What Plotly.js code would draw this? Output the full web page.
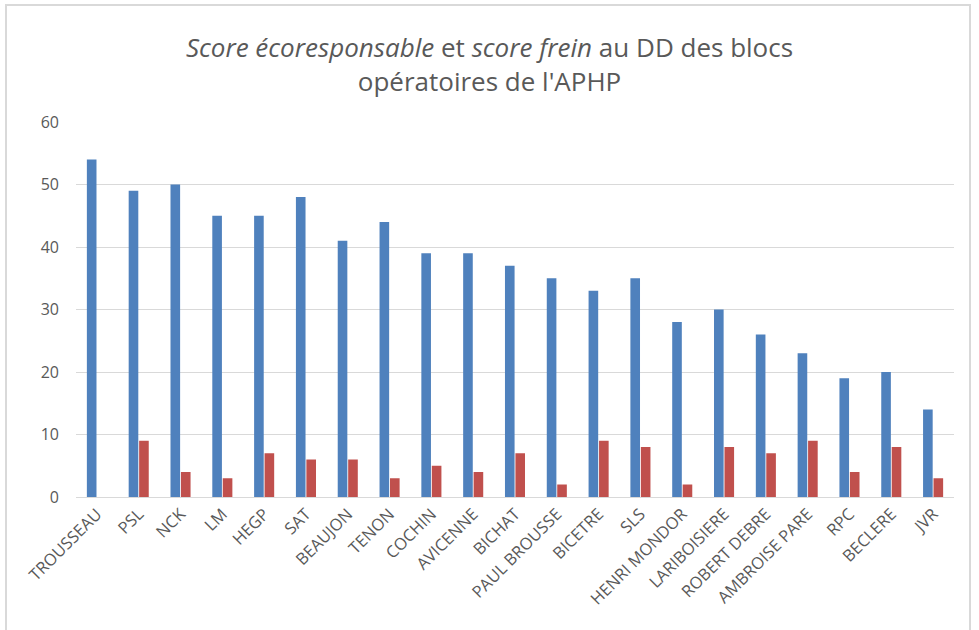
<!DOCTYPE html>
<html>
<head>
<meta charset="utf-8">
<script src="https://cdn.plot.ly/plotly-3.0.1.min.js"></script>
<style>
html,body{margin:0;padding:0;background:#fff;}
#frame{position:absolute;left:5px;top:4px;width:966px;height:640px;border:2px solid #d9d9d9;box-sizing:border-box;}
#chart{position:absolute;left:0;top:0;width:979px;height:630px;}
</style>
</head>
<body>
<div id="frame"></div>
<div id="chart"></div>
<script>
const categories = ["TROUSSEAU","PSL","NCK","LM","HEGP","SAT","BEAUJON","TENON","COCHIN","AVICENNE","BICHAT","PAUL BROUSSE","BICETRE","SLS","HENRI MONDOR","LARIBOISIERE","ROBERT DEBRE","AMBROISE PARE","RPC","BECLERE","JVR"];
const scoreEco = [54,49,50,45,45,48,41,44,39,39,37,35,33,35,28,30,26,23,19,20,14];
const scoreFrein = [0,9,4,3,7,6,6,3,5,4,7,2,9,8,2,8,7,9,4,8,3];
const yTicks = [0,10,20,30,40,50,60];

const font = "Open Sans, Noto Sans, sans-serif";
const traces = [
  {type:"bar", x:categories, y:scoreEco, name:"Score écoresponsable",
   marker:{color:"#4f81bd", line:{width:0}}},
  {type:"bar", x:categories, y:scoreFrein, name:"Score frein",
   marker:{color:"#c0504d", line:{width:0}}}
];
const layout = {
  width:979, height:630,
  paper_bgcolor:"rgba(0,0,0,0)", plot_bgcolor:"rgba(0,0,0,0)",
  margin:{l:76, r:25, t:122, b:133},
  showlegend:false,
  barmode:"group", bargap:0.5, bargroupgap:0.08,
  title:{text:"<i>Score écoresponsable</i> et <i>score frein</i> au DD des blocs<br>opératoires de l'APHP",
         x:0.5, xanchor:"center", y:0.91, yanchor:"top",
         font:{family:font, size:26, color:"#595959"}},
  xaxis:{tickangle:-45, tickfont:{family:font, size:16.5, color:"#595959"},
         showgrid:false, showline:true, linecolor:"#d9d9d9", linewidth:1, ticks:"", automargin:false},
  yaxis:{range:[0,60], tickvals:yTicks, tickfont:{family:font, size:16, color:"#595959"},
         showgrid:true, gridcolor:"#d9d9d9", gridwidth:1, zeroline:false, ticks:"",
         showline:false, ticklabelstandoff:16, automargin:false}
};
Plotly.newPlot("chart", traces, layout, {displayModeBar:false, staticPlot:true});
</script>
</body>
</html>
